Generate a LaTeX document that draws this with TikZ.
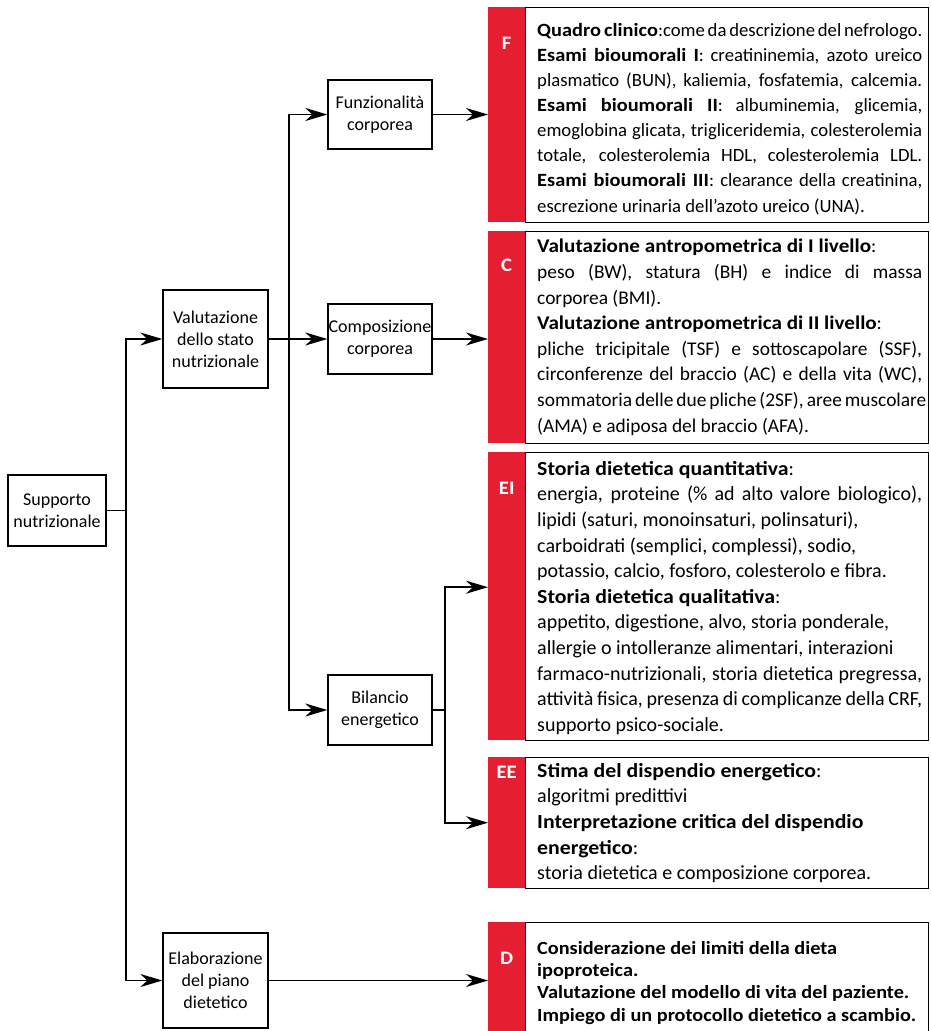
\documentclass[tikz,border=0pt]{standalone}
\usepackage{fontspec}
\setmainfont{Carlito}[BoldFeatures={FakeStretch=1.09}]
\usetikzlibrary{arrows.meta,positioning}
\definecolor{tabred}{RGB}{230,30,50}
\newlength{\pw}\setlength{\pw}{385pt}
\newcommand{\jl}[1]{\makebox[\pw][s]{#1}}

\begin{document}
\begin{tikzpicture}[
    x=1pt, y=-1pt,
    every node/.style={inner sep=0pt},
    box/.style={draw, line width=1.3pt, align=center, font=\fontsize{18}{22}\selectfont},
    tab/.style={fill=tabred, minimum width=37pt, anchor=north west},
    tabletter/.style={text=white, font=\fontsize{19}{19}\selectfont\bfseries},
    frame/.style={draw, line width=1.3pt, minimum width=403pt, anchor=north west},
    info/.style={align=left, anchor=north west, font=\fontsize{20}{25.6}\selectfont},
    conn/.style={line width=1.7pt},
    arr/.style={conn, -{Stealth[length=22pt,width=13pt,inset=7pt]}}
]

\fill[white] (0,0) rectangle (930,1031);
\useasboundingbox (0,0) rectangle (930,1031);

% left column
\node[box, minimum width=98pt, minimum height=71pt] (sup) at (57,510.5) {Supporto\\nutrizionale};
\node[box, minimum width=105pt, minimum height=98pt] (val) at (215.5,339) {Valutazione\\dello stato\\nutrizionale};
\node[box, minimum width=105pt, minimum height=95pt] (ela) at (215.5,980.5) {Elaborazione\\del piano\\dietetico};

% middle column
\node[box, minimum width=104pt, minimum height=69pt] (fun) at (380,114.5) {Funzionalità\\corporea};
\node[box, minimum width=104pt, minimum height=70pt] (comp) at (380,339) {Composizione\\corporea};
\node[box, minimum width=104pt, minimum height=70pt] (bil) at (380,710) {Bilancio\\energetico};

% red tabs and frames
\node[tab, minimum height=215pt] (tF) at (488,7) {};
\node[tab, minimum height=212pt] (tC) at (488,231) {};
\node[tab, minimum height=288pt] (tEI) at (488,452) {};
\node[tab, minimum height=131pt] (tEE) at (488,757) {};
\node[tab, minimum height=118pt] (tD) at (488,922) {};

\node[tabletter, below=30pt of tF.north] {F};
\node[tabletter, below=28pt of tC.north] {C};
\node[tabletter, below=30pt of tEI.north] {EI};
\node[tabletter, below=9pt of tEE.north] {EE};
\node[tabletter, below=30pt of tD.north] {D};

\node[frame, minimum height=215pt] (pF) at (525,7) {};
\node[frame, minimum height=212pt] (pC) at (525,231) {};
\node[frame, minimum height=288pt] (pEI) at (525,452) {};
\node[frame, minimum height=131pt] (pEE) at (525,757) {};
\node[frame, minimum height=118pt] (pD) at (525,922) {};

% panel texts
\node[info, font=\fontsize{18.7}{25.1}\selectfont] (xF) at (537,23) {%
\jl{\textbf{Quadro clinico}:come da descrizione del nefrologo.}\\
\jl{\textbf{Esami bioumorali I}: creatininemia, azoto ureico}\\
\jl{plasmatico (BUN), kaliemia, fosfatemia, calcemia.}\\
\jl{\textbf{Esami bioumorali II}: albuminemia, glicemia,}\\
\jl{emoglobina glicata, trigliceridemia, colesterolemia}\\
\jl{totale, colesterolemia HDL, colesterolemia LDL.}\\
\jl{\textbf{Esami bioumorali III}: clearance della creatinina,}\\
escrezione urinaria dell’azoto ureico (UNA).};

\node[info, font=\fontsize{19.4}{25.6}\selectfont] (xC) at (537,239) {%
\textbf{Valutazione antropometrica di I livello}:\\
\jl{peso (BW), statura (BH) e indice di massa}\\
corporea (BMI).\\
\textbf{Valutazione antropometrica di II livello}:\\
\jl{pliche tricipitale (TSF) e sottoscapolare (SSF),}\\
\jl{circonferenze del braccio (AC) e della vita (WC),}\\
\jl{sommatoria delle due pliche (2SF),\,aree muscolare}\\
(AMA) e adiposa del braccio (AFA).};

\node[info] (xEI) at (537,461) {%
\textbf{Storia dietetica quantitativa}:\\
\jl{energia, proteine (\% ad alto valore biologico),}\\
lipidi (saturi, monoinsaturi, polinsaturi),\\
carboidrati (semplici, complessi), sodio,\\
potassio, calcio, fosforo, colesterolo e fibra.\\
\textbf{Storia dietetica qualitativa}:\\
appetito, digestione, alvo, storia ponderale,\\
allergie o intolleranze alimentari, interazioni\\
\jl{farmaco-nutrizionali, storia dietetica pregressa,}\\
\jl{attività fisica, presenza di complicanze della CRF,}\\
supporto psico-sociale.};

\node[info] (xEE) at (537,763) {%
\textbf{Stima del dispendio energetico}:\\
algoritmi predittivi\\
\textbf{Interpretazione critica del dispendio}\\
\textbf{energetico}:\\
storia dietetica e composizione corporea.};

\node[info, font=\fontsize{18.6}{22.3}\selectfont\bfseries] (xD) at (537,941) {%
Considerazione dei limiti della dieta\\
ipoproteica.\\
Valutazione del modello di vita del paziente.\\
Impiego di un protocollo dietetico a scambio.};

% connectors
\draw[conn] (sup.east) -- ++(19,0) coordinate (j1);
\draw[arr] (j1) |- (val.west);
\draw[arr] (j1) |- (ela.west);
\draw[conn] (val.east) -- ++(20,0) coordinate (j2);
\draw[arr] (j2) |- (fun.west);
\draw[arr] (j2) -- (comp.west);
\draw[arr] (j2) |- (bil.west);
\draw[conn] (bil.east) -- ++(12,0) coordinate (j3);
\draw[arr] (j3) |- ([yshift=9pt]tEI.west);
\draw[arr] (j3) |- (tEE.west);
\draw[arr] (fun.east) -- (fun.east -| tF.west);
\draw[arr] (comp.east) -- (comp.east -| tC.west);
\draw[arr] (ela.east) -- (ela.east -| tD.west);

\end{tikzpicture}
\end{document}
